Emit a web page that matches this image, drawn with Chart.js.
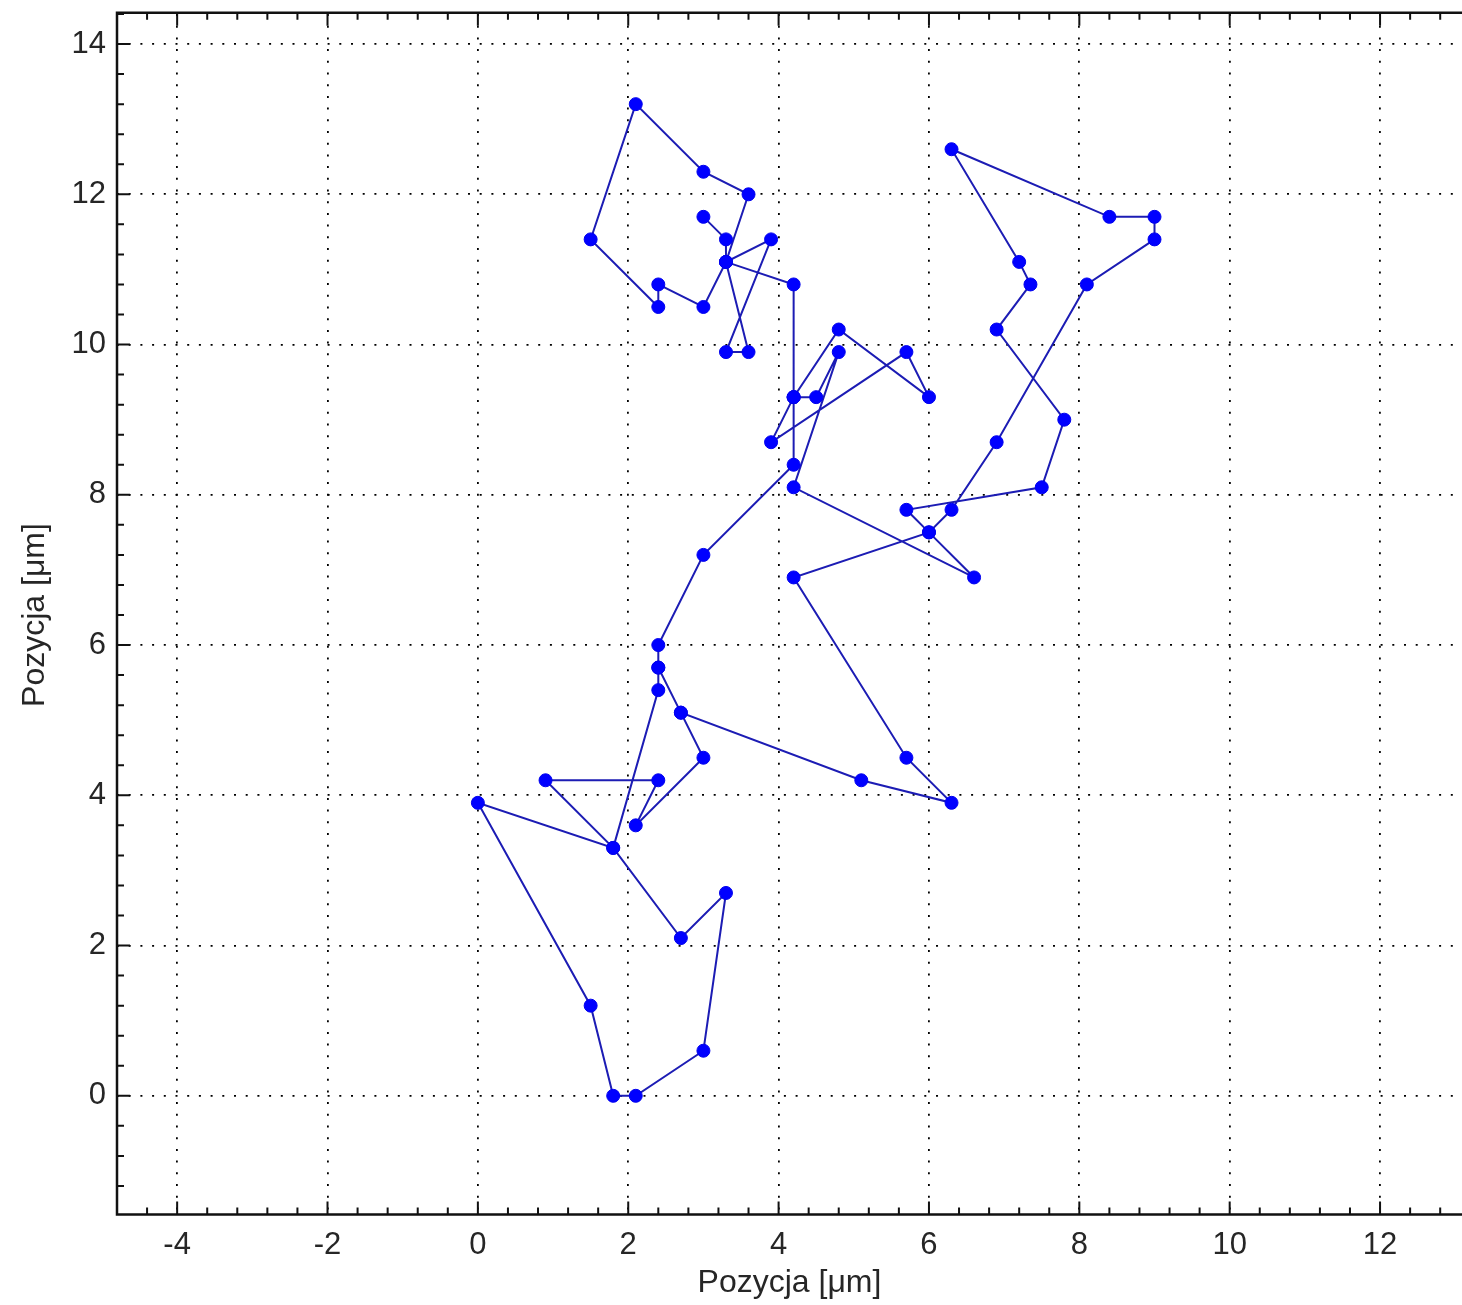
<!DOCTYPE html>
<html>
<head>
<meta charset="utf-8">
<script src="https://cdn.jsdelivr.net/npm/chart.js@4.4.1/dist/chart.umd.min.js"></script>
<style>
  html, body { margin: 0; padding: 0; background: #ffffff; }
  #wrap { width: 1462px; height: 1305px; }
</style>
</head>
<body>
<div id="wrap"><canvas id="c" width="1462" height="1305"></canvas></div>
<script>
// Trajectory of the particle, in visiting order (µm)
const pathX = [4.2, 3.9, 5.7, 6.0, 4.8, 4.2, 4.5, 4.8, 4.2, 6.6,
               6.0, 5.7, 7.5, 7.8, 6.9, 7.35, 7.2, 6.3, 8.4, 9.0,
               9.0, 8.1, 6.9, 6.3, 6.0, 4.2, 5.7, 6.3, 5.1, 2.7,
               3.0, 2.1, 2.4, 0.9, 1.8, 2.7, 3.3, 3.0, 2.1, 1.8,
               1.5, 0.0, 1.8, 2.4, 2.4, 2.7, 2.4, 2.4, 3.0, 4.2,
               4.2, 4.2, 3.3, 3.6, 3.3, 3.9, 3.3, 3.6, 3.0, 2.1,
               1.5, 2.4, 2.4, 3.0, 3.3, 3.3, 3.0];
const pathY = [9.3, 8.7, 9.9, 9.3, 10.2, 9.3, 9.3, 9.9, 8.1, 6.9,
               7.5, 7.8, 8.1, 9.0, 10.2, 10.8, 11.1, 12.6, 11.7, 11.7,
               11.4, 10.8, 8.7, 7.8, 7.5, 6.9, 4.5, 3.9, 4.2, 5.1,
               4.5, 3.6, 4.2, 4.2, 3.3, 2.1, 2.7, 0.6, 0.0, 0.0,
               1.2, 3.9, 3.3, 5.4, 5.7, 5.1, 5.7, 6.0, 7.2, 8.4,
               9.3, 10.8, 11.1, 9.9, 9.9, 11.4, 11.1, 12.0, 12.3, 13.2,
               11.4, 10.5, 10.8, 10.5, 11.1, 11.4, 11.7];

const xTickValues = [-4, -2, 0, 2, 4, 6, 8, 10, 12];
const yTickValues = [0, 2, 4, 6, 8, 10, 12, 14];
const xRange = [-4.8, 13.09];
const yRange = [-1.6, 14.4];
const minorStep = 0.4;
const axisTitle = 'Pozycja [\u03bcm]';

const FONT = '"Liberation Sans", Arial, Helvetica, sans-serif';
const TEXT = '#262626';

// Frame lines on left/bottom/top plus inward-pointing major and minor tick marks
const frameTicks = {
  id: 'frameTicks',
  afterDatasetsDraw(chart) {
    const { ctx, chartArea: a, scales: { x, y } } = chart;
    const top = a.top - 1.2;
    const bottom = a.bottom - 1.5;
    ctx.save();
    ctx.strokeStyle = '#111111';
    ctx.lineCap = 'butt';
    ctx.lineWidth = 2.5;
    ctx.beginPath();
    ctx.moveTo(a.left - 1.25, top); ctx.lineTo(a.right, top);
    ctx.moveTo(a.left, top); ctx.lineTo(a.left, bottom + 1.25);
    ctx.moveTo(a.left - 1.25, bottom); ctx.lineTo(a.right, bottom);
    ctx.stroke();

    ctx.lineWidth = 2;
    ctx.beginPath();
    const isMajor = v => Math.abs(v / 2 - Math.round(v / 2)) < 1e-6;
    for (let k = Math.ceil(xRange[0] / minorStep - 1e-9); k * minorStep <= xRange[1] + 1e-9; k++) {
      const v = +(k * minorStep).toFixed(6);
      const px = x.getPixelForValue(v);
      if (px <= a.left + 1 || px >= a.right) continue;
      const len = isMajor(v) ? 13 : 7;
      ctx.moveTo(px, bottom); ctx.lineTo(px, bottom - len);
      ctx.moveTo(px, top); ctx.lineTo(px, top + len);
    }
    for (let k = Math.ceil(yRange[0] / minorStep - 1e-9); k * minorStep <= yRange[1] + 1e-9; k++) {
      const v = +(k * minorStep).toFixed(6);
      const py = y.getPixelForValue(v);
      if (py <= top + 1 || py >= bottom - 1) continue;
      const len = isMajor(v) ? 13 : 7;
      ctx.moveTo(a.left, py); ctx.lineTo(a.left + len, py);
    }
    ctx.stroke();
    ctx.restore();
  }
};

const points = pathX.map((v, i) => ({ x: v, y: pathY[i] }));

new Chart(document.getElementById('c'), {
  type: 'scatter',
  data: {
    datasets: [{
      data: points,
      showLine: true,
      borderColor: '#1c1cb4',
      borderWidth: 2,
      tension: 0,
      pointStyle: 'circle',
      pointRadius: 6.5,
      pointHoverRadius: 6.5,
      pointBackgroundColor: '#0000ff',
      pointBorderColor: '#0000ee',
      pointBorderWidth: 1
    }]
  },
  options: {
    responsive: false,
    animation: false,
    devicePixelRatio: 1,
    layout: { autoPadding: false, padding: { top: 14, left: 0, right: 0, bottom: 0 } },
    plugins: { legend: { display: false }, tooltip: { enabled: false } },
    scales: {
      x: {
        type: 'linear',
        min: xRange[0],
        max: xRange[1],
        afterBuildTicks: s => { s.ticks = xTickValues.map(v => ({ value: v })); },
        afterFit: s => { s.height = 89; s.paddingLeft = 0; s.paddingRight = 0; },
        grid: { color: '#000000', lineWidth: 1.8, drawTicks: false },
        border: { display: false, dash: [2, 9.7] },
        ticks: {
          padding: 11,
          maxRotation: 0,
          autoSkip: false,
          color: TEXT,
          font: { family: FONT, size: 31 },
          callback: v => String(v)
        },
        title: {
          display: true,
          text: axisTitle,
          color: TEXT,
          font: { family: FONT, size: 32 },
          padding: { top: 0, bottom: 3 }
        }
      },
      y: {
        type: 'linear',
        min: yRange[0],
        max: yRange[1],
        afterBuildTicks: s => { s.ticks = yTickValues.map(v => ({ value: v })); },
        afterFit: s => { s.width = 117; s.paddingTop = 0; s.paddingBottom = 0; },
        grid: { color: '#000000', lineWidth: 1.8, drawTicks: false },
        border: { display: false, dash: [2, 9.7] },
        ticks: {
          padding: 11,
          autoSkip: false,
          color: TEXT,
          font: { family: FONT, size: 31 },
          callback: v => String(v)
        },
        title: {
          display: true,
          text: axisTitle,
          color: TEXT,
          font: { family: FONT, size: 32 },
          padding: { top: 16, bottom: 0 }
        }
      }
    }
  },
  plugins: [frameTicks]
});
</script>
</body>
</html>
